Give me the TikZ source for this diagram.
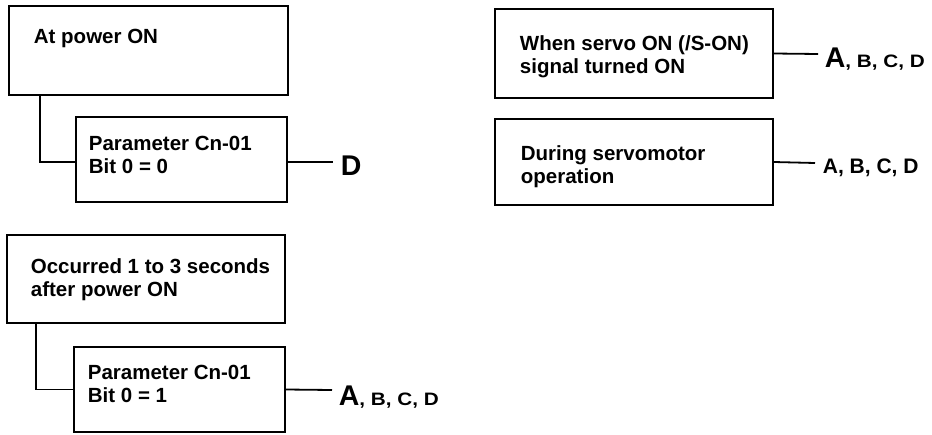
\documentclass[tikz,border=0pt]{standalone}
\usepackage{fontspec}
\setmainfont{Liberation Sans}
\newfontfamily\widefont[FakeStretch=1.15]{Liberation Sans Bold}
\newfontfamily\heavyfont{Liberation Sans Bold}
\begin{document}
\begin{tikzpicture}[x=1pt,y=-1pt,line width=1.8pt,
  box/.style={draw,line width=1.8pt,inner sep=0pt},
  txt/.style={anchor=base west,inner sep=0pt,align=left,
    font=\fontsize{20.5}{22.5}\selectfont\bfseries},
  res/.style={anchor=base west,inner sep=0pt,
    font=\fontsize{20.5}{22.5}\selectfont\bfseries},
  conn/.style={draw,line width=1.8pt}]
\useasboundingbox (0,0) rectangle (932,434);
% left column, upper group
\node[box,minimum width=279pt,minimum height=89pt] (b1) at (148.5,50.5) {};
\node[box,minimum width=211pt,minimum height=85pt] (b2) at (181.5,159.5) {};
\node[txt] (t1) at (33,43) {At power ON};
\node[txt] (t2) at (88,173) {Parameter Cn-01\\Bit 0 = 0};
\coordinate (e2) at (333,162);
\node[res,font=\heavyfont\fontsize{28.5}{30}\selectfont] (r2) at (340,175.5) {D};
\draw[conn] ([xshift=32pt]b1.south west) |- ([yshift=-2.5pt]b2.west);
\draw[conn] ([yshift=-2.5pt]b2.east) -- (e2);
% left column, lower group
\node[box,minimum width=278pt,minimum height=88pt] (b3) at (146,279) {};
\node[box,minimum width=211pt,minimum height=85pt] (b4) at (179.5,389.5) {};
\node[txt] (t3) at (30,296) {Occurred 1 to 3 seconds\\after power ON};
\node[txt] (t4) at (87,402) {Parameter Cn-01\\Bit 0 = 1};
\coordinate (e4) at (332,390);
\node[res] (r4) at (338,405) {{\heavyfont\fontsize{28.5}{30}\selectfont A}{\widefont\fontsize{18}{20}\selectfont, B, C, D}};
\draw[conn] ([xshift=30pt]b3.south west) |- (b4.west);
\draw[conn] (b4.east) -- (e4);
% right column
\node[box,minimum width=278pt,minimum height=89pt] (b5) at (634,53.5) {};
\node[box,minimum width=278pt,minimum height=86pt] (b6) at (634,162) {};
\node[txt] (t5) at (519,73) {When servo ON (/S-ON)\\signal turned ON};
\node[txt] (t6) at (520,183) {During servomotor\\operation};
\coordinate (e5) at (818,54);
\coordinate (e6) at (815,163);
\node[res] (r5) at (824,67) {{\heavyfont\fontsize{28.5}{30}\selectfont A}{\widefont\fontsize{18}{20}\selectfont, B, C, D}};
\node[res,font=\fontsize{21}{23}\selectfont\bfseries] (r6) at (822,173) {A, B, C, D};
\draw[conn] (b5.east) -- (e5);
\draw[conn] (b6.east) -- (e6);
\end{tikzpicture}
\end{document}
